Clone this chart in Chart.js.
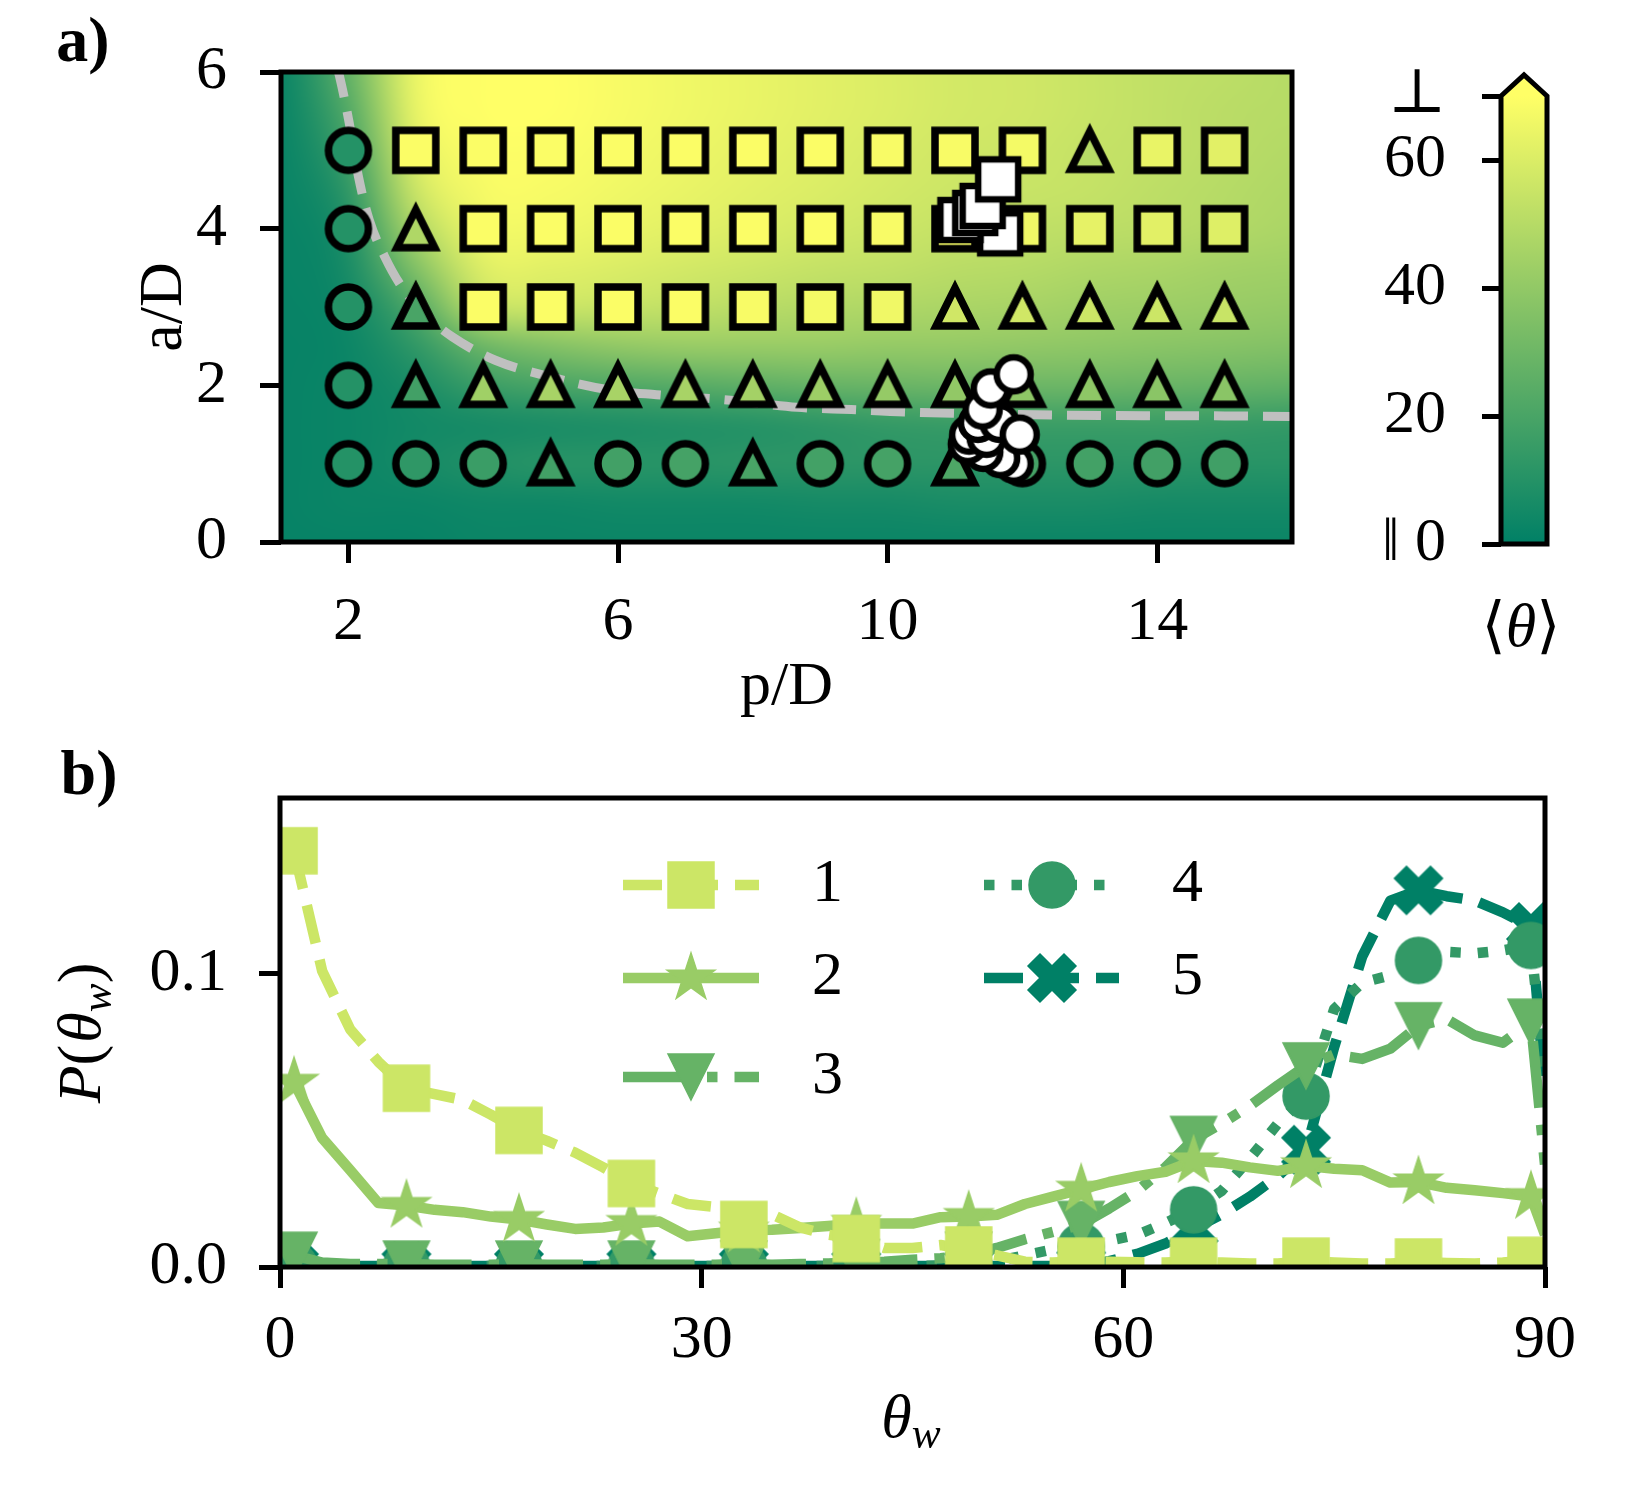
<!DOCTYPE html>
<html>
<head>
<meta charset="utf-8">
<script src="https://cdn.jsdelivr.net/npm/chart.js@4.4.1/dist/chart.umd.min.js"></script>
<style>
html,body{margin:0;padding:0;background:#fff;width:1627px;height:1507px;overflow:hidden;}
canvas{position:absolute;}
</style>
</head>
<body>
<canvas id="cA" width="1320" height="740" style="left:0;top:0;width:1320px;height:740px"></canvas>
<canvas id="cCB" width="307" height="740" style="left:1320px;top:0;width:307px;height:740px"></canvas>
<canvas id="cB" width="1627" height="767" style="left:0;top:740px;width:1627px;height:767px"></canvas>
<script>
// ================= DATA: panel a =================
const pOverD = [2,3,4,5,6,7,8,9,10,11,12,13,14,15];
const aOverD = [1,2,3,4,5];
const shapeRowA1 = ['o','o','o','^','o','o','^','o','o','^','o','o','o','o'];
const shapeRowA2 = ['o','^','^','^','^','^','^','^','^','^','^','^','^','^'];
const shapeRowA3 = ['o','^','s','s','s','s','s','s','s','^','^','^','^','^'];
const shapeRowA4 = ['o','^','s','s','s','s','s','s','s','s','s','s','s','s'];
const shapeRowA5 = ['o','s','s','s','s','s','s','s','s','s','s','^','s','s'];
const thetaRowA1 = [10,13,16,18,18,19,20,18.5,19,21.5,19,18.5,18,17.5];
const thetaRowA2 = [10,18,44,46,46,46,45,43,41,40,39,39,38,38];
const thetaRowA3 = [10,20,69,69,69,69,68,67,66,57,57,56,56,55];
const thetaRowA4 = [10,48,69,69,69,69,69,69,68,67,66,63,62,61];
const thetaRowA5 = [10,69,69,69,69,69,69,69,68,68,67,50,64,62];

// white markers (trajectories)
const whiteSqP = [11.67,11.08,11.30,11.41,11.64];
const whiteSqA = [3.94,4.11,4.20,4.29,4.63];
const whiteCircP = [11.87,11.67,11.42,11.19,11.21,11.47,11.34,11.66,11.41,11.96,11.53,11.87];
const whiteCircA = [1.00,1.07,1.15,1.25,1.37,1.33,1.52,1.52,1.69,1.37,1.96,2.14];

// dashed boundary curve
const curveP = [1.82,1.87,2.01,2.15,2.31,2.54,2.79,3.18,3.54,4.18,4.99,5.88,6.57,7.67,8.66,9.46,10.25,12.5,15.0,16.5];
const curveA = [6.10,5.94,5.36,4.66,4.11,3.64,3.26,2.87,2.62,2.32,2.11,1.94,1.88,1.81,1.72,1.69,1.66,1.62,1.61,1.60];

// background <theta> field (degrees), rows of constant a/D, columns p/D = bgP
const bgP = [1,2,3,4,5,6,7,8,9,10,11,12,13,14,15,16];
const bgA = [0,0.5,1,1.5,2,2.5,3,3.5,4,4.5,5,5.5,6];
const bgA00 = [2,2,2,3,3,3,3,3,3,3,3,3,3,3,3,3];
const bgA05 = [2,3,3,4,4,5,5,5,6,6,7,7,7,6,6,6];
const bgA10 = [2,3,6,9,11,11,11,12,12,12,12,12,12,12,11,11];
const bgA15 = [2,3,5,6,7,8,9,10,12,14,15,16,16,16,15,14];
const bgA20 = [2,3,7,16,20,22,24,26,28,29,30,30,30,29,28,27];
const bgA25 = [2,3,13,30,36,40,42,42,42,41,41,40,39,38,37,36];
const bgA30 = [2,4,22,54,56,55,53,51,49,48,47,46,44,43,42,41];
const bgA35 = [2,6,36,62,62,60,58,56,54,53,51,50,48,47,45,44];
const bgA40 = [2,8,48,66,66,64,62,60,58,56,54,53,52,51,49,47];
const bgA45 = [2,12,57,68,68,66,64,62,60,58,56,55,54,52,50,48];
const bgA50 = [2,17,62,69,69,67,65,63,61,59,57,56,54,53,51,49];
const bgA55 = [2,22,65,70,70,68,66,64,62,60,58,57,55,53,51,50];
const bgA60 = [2,27,66,70,70,68,66,64,62,60,58,57,55,53,52,50];

const xTicksA = [2,6,10,14];
const yTicksA = [0,2,4,6];

// colorbar
const cbMax = 70;
const cbTicks = [0,20,40,60,70];
const cbLabels = ['\u2016 0','20','40','60','\u22A5'];

// ================= DATA: panel b =================
const thetaW = [1,3,5,7,9,11,13,15,17,19,21,23,25,27,29,31,33,35,37,39,41,43,45,47,49,51,53,55,57,59,61,63,65,67,69,71,73,75,77,79,81,83,85,87,89,90];
const pS1 = [0.142,0.101,0.081,0.070,0.061,0.059,0.057,0.052,0.0466,0.043,0.039,0.034,0.0285,0.025,0.0215,0.0205,0.0145,0.018,0.0135,0.011,0.0097,0.0065,0.0065,0.0075,0.0058,0.004,0.0018,0.0015,0.002,0.0018,0.0016,0.0015,0.002,0.0015,0.0012,0.0012,0.002,0.0015,0.0012,0.0012,0.0017,0.0014,0.0012,0.0015,0.0023,0.0005];
const pS2 = [0.063,0.044,0.033,0.0218,0.021,0.0195,0.0187,0.0172,0.0162,0.0145,0.013,0.0135,0.0148,0.0155,0.0105,0.0115,0.0125,0.0127,0.0133,0.014,0.0148,0.0148,0.0148,0.017,0.0172,0.0178,0.0215,0.024,0.0265,0.029,0.031,0.0325,0.0362,0.0356,0.034,0.0328,0.0345,0.0335,0.033,0.0288,0.029,0.027,0.0262,0.0252,0.024,0.011];
const pS3 = [0.004,0.0015,0.001,0.001,0.001,0.0008,0.0008,0.0008,0.001,0.0008,0.0008,0.0008,0.001,0.0008,0.0008,0.0008,0.001,0.0008,0.001,0.0012,0.0015,0.0018,0.0025,0.003,0.004,0.0065,0.0095,0.012,0.0145,0.02,0.026,0.034,0.0435,0.049,0.055,0.062,0.0686,0.0725,0.071,0.0745,0.0823,0.0846,0.079,0.0765,0.0835,0.035];
const pS4 = [0.0005,0.0003,0.0003,0.0003,0.0003,0.0003,0.0003,0.0003,0.0003,0.0003,0.0003,0.0003,0.0003,0.0003,0.0003,0.0003,0.0003,0.0003,0.0003,0.0003,0.0003,0.0003,0.0003,0.0005,0.001,0.002,0.004,0.006,0.007,0.009,0.011,0.015,0.0195,0.026,0.037,0.049,0.0583,0.088,0.097,0.0995,0.1046,0.1075,0.107,0.108,0.1097,0.065];
const pS5 = [0.0003,0.0003,0.0003,0.0003,0.0003,0.0003,0.0003,0.0003,0.0003,0.0003,0.0003,0.0003,0.0003,0.0003,0.0003,0.0003,0.0003,0.0003,0.0003,0.0003,0.0003,0.0003,0.0003,0.0003,0.0003,0.0003,0.0003,0.0003,0.0008,0.002,0.0045,0.008,0.013,0.018,0.024,0.031,0.040,0.075,0.106,0.125,0.1285,0.1265,0.125,0.121,0.116,0.06];
const seriesLabels = ['1','2','3','4','5'];
const xTicksB = [0,30,60,90];
const yTicksB = [0,0.1];

// ================= helpers =================
const FONT = "'Liberation Serif', 'DejaVu Serif', serif";
const FS = 62;
Chart.defaults.font.family = FONT;
Chart.defaults.font.size = FS;
Chart.defaults.color = '#000';

function summer(t){ t = Math.max(0, Math.min(1, t)); return [Math.round(255*t), Math.round(255*(0.5+0.5*t)), 102]; }
function rgb(c){ return 'rgb(' + c[0] + ',' + c[1] + ',' + c[2] + ')'; }
function colorOf(v){ return rgb(summer(v / cbMax)); }

const markerCache = {};
function marker(shape, size, fill, stroke, lw){
  const key = [shape,size,fill,stroke,lw].join('|');
  if (markerCache[key]) return markerCache[key];
  let dim = Math.ceil(size + 4*lw + 20); if (dim % 2) dim++;
  const c = document.createElement('canvas'); c.width = dim; c.height = dim;
  const g = c.getContext('2d'); g.translate(dim/2, dim/2);
  const h = size/2;
  g.beginPath();
  if (shape === 's') { g.rect(-h,-h,size,size); }
  else if (shape === 'o') { g.arc(0,0,h,0,Math.PI*2); }
  else if (shape === '^') { g.moveTo(0,-h); g.lineTo(h,h); g.lineTo(-h,h); g.closePath(); }
  else if (shape === 'v') { g.moveTo(0,h); g.lineTo(h,-h); g.lineTo(-h,-h); g.closePath(); }
  else if (shape === '*') {
    const rin = h*0.381966;
    for (let k=0;k<10;k++){ const r = k%2===0 ? h : rin; const ang = -Math.PI/2 + k*Math.PI/5; const px = r*Math.cos(ang), py = r*Math.sin(ang); if(k===0) g.moveTo(px,py); else g.lineTo(px,py); }
    g.closePath();
  } else if (shape === 'X') {
    const v = [[-0.25,-0.5],[0,-0.25],[0.25,-0.5],[0.5,-0.25],[0.25,0],[0.5,0.25],[0.25,0.5],[0,0.25],[-0.25,0.5],[-0.5,0.25],[-0.25,0],[-0.5,-0.25]];
    v.forEach((p,i)=>{ if(i===0) g.moveTo(p[0]*size,p[1]*size); else g.lineTo(p[0]*size,p[1]*size); });
    g.closePath();
  }
  g.fillStyle = fill; g.fill();
  if (lw > 0) { g.lineWidth = lw; g.strokeStyle = stroke; g.lineJoin = (shape==='o') ? 'round' : 'miter'; g.miterLimit = 10; g.stroke(); }
  markerCache[key] = c;
  return c;
}
function gridMarker(shape, theta){
  const size = shape === '^' ? 38 : 40;
  return marker(shape, size, colorOf(theta), '#000', 7.5);
}

function drawRich(ctx, parts, cx, cy, rot, size){
  ctx.save();
  ctx.translate(cx, cy); ctx.rotate(rot || 0);
  ctx.fillStyle = '#000'; ctx.textAlign = 'left'; ctx.textBaseline = 'alphabetic';
  const items = parts.map(p => {
    const fs = p.sub ? size*0.7 : size;
    const font = (p.it ? 'italic ' : '') + (p.bold ? 'bold ' : '') + fs + 'px ' + FONT;
    ctx.font = font;
    return { t: p.t, font: font, w: ctx.measureText(p.t).width, dy: p.sub ? size*0.17 : 0, kern: p.kern || 0 };
  });
  const total = items.reduce((s,it)=>s+it.w+it.kern,0);
  let x = -total/2;
  const base = size*0.33;
  items.forEach(it => { ctx.font = it.font; ctx.fillText(it.t, x, base + it.dy); x += it.w + it.kern; });
  ctx.restore();
}

const framePlugin = { id:'frame', afterDatasetsDraw(chart){
  const {ctx, chartArea:ca} = chart;
  ctx.save(); ctx.strokeStyle = '#000'; ctx.lineWidth = 5; ctx.lineJoin = 'miter';
  ctx.strokeRect(ca.left, ca.top, ca.right-ca.left, ca.bottom-ca.top);
  ctx.restore();
}};
function noPadY(s, w){ s.width = w; s.paddingTop = 0; s.paddingBottom = 0; }
function noPadX(s, h){ s.height = h; s.paddingLeft = 0; s.paddingRight = 0; }

// ================= Panel a chart =================
const bgRows = [bgA00,bgA05,bgA10,bgA15,bgA20,bgA25,bgA30,bgA35,bgA40,bgA45,bgA50,bgA55,bgA60];
const heatmapPlugin = { id:'heat', beforeDatasetsDraw(chart){
  const {ctx, chartArea:ca, scales} = chart;
  const xs = scales.x, ys = scales.y;
  const nx = bgP.length, ny = bgA.length;
  const off = document.createElement('canvas'); off.width = nx+2; off.height = ny+2;
  const g = off.getContext('2d'); const img = g.createImageData(nx+2, ny+2);
  for (let j=0;j<ny+2;j++){
    for (let i=0;i<nx+2;i++){
      const ii = Math.min(nx-1, Math.max(0, i-1));
      const jj = Math.min(ny-1, Math.max(0, j-1));
      const val = bgRows[ny-1-jj][ii];
      const c = summer(val / cbMax);
      const k = (j*(nx+2)+i)*4;
      img.data[k]=c[0]; img.data[k+1]=c[1]; img.data[k+2]=c[2]; img.data[k+3]=255;
    }
  }
  g.putImageData(img,0,0);
  const dp = bgP[1]-bgP[0], da = bgA[1]-bgA[0];
  const x0 = xs.getPixelForValue(bgP[0]-1.5*dp), x1 = xs.getPixelForValue(bgP[nx-1]+1.5*dp);
  const y0 = ys.getPixelForValue(bgA[ny-1]+1.5*da), y1 = ys.getPixelForValue(bgA[0]-1.5*da);
  ctx.save();
  ctx.beginPath(); ctx.rect(ca.left, ca.top, ca.right-ca.left, ca.bottom-ca.top); ctx.clip();
  ctx.imageSmoothingEnabled = true; ctx.imageSmoothingQuality = 'high';
  ctx.drawImage(off, x0, y0, x1-x0, y1-y0);
  ctx.restore();
}};
const labelAPlugin = { id:'labA', afterDraw(chart){
  const ctx = chart.ctx;
  ctx.save(); ctx.fillStyle='#000'; ctx.font = 'bold 64px ' + FONT; ctx.textAlign='center'; ctx.textBaseline='middle';
  ctx.fillText('a)', 83, 44); ctx.restore();
}};

function gridDataset(a, shapes, theta){
  return {
    type:'scatter', order:1,
    data: pOverD.map(p => ({x:p, y:a})),
    pointStyle: c => (c.type === 'data') ? gridMarker(shapes[c.dataIndex], theta[c.dataIndex]) : 'circle',
    pointRadius: 22
  };
}
const dsA = [
  { type:'scatter', order:0, data: whiteCircP.map((p,i)=>({x:p, y:whiteCircA[i]})), pointStyle: marker('o',34,'#fff','#000',6.5), pointRadius:20 },
  { type:'scatter', order:0, data: whiteSqP.map((p,i)=>({x:p, y:whiteSqA[i]})), pointStyle: marker('s',40,'#fff','#000',6.5), pointRadius:22 },
  gridDataset(aOverD[4], shapeRowA5, thetaRowA5),
  gridDataset(aOverD[3], shapeRowA4, thetaRowA4),
  gridDataset(aOverD[2], shapeRowA3, thetaRowA3),
  gridDataset(aOverD[1], shapeRowA2, thetaRowA2),
  gridDataset(aOverD[0], shapeRowA1, thetaRowA1),
  { type:'line', order:2, data: curveP.map((p,i)=>({x:p, y:curveA[i]})), borderColor:'#c0c0c0', borderWidth:9, borderDash:[34,15], pointRadius:0, fill:false, cubicInterpolationMode:'monotone', clip:0 }
];

const tickGrid = { drawOnChartArea:false, drawTicks:true, tickLength:21, tickWidth:5, tickColor:'#000' };

new Chart(document.getElementById('cA'), {
  type:'scatter',
  data:{ datasets: dsA },
  options:{
    responsive:false, animation:false, events:[],
    layout:{ padding:{ left:0, right:28, top:72, bottom:0 } },
    plugins:{ legend:{display:false}, tooltip:{enabled:false} },
    scales:{
      x:{ type:'linear', min:1, max:16,
          afterBuildTicks: s => { s.ticks = xTicksA.map(v=>({value:v})); },
          afterFit: s => noPadX(s, 198),
          grid: tickGrid, border:{display:false},
          ticks:{ padding:23, color:'#000', font:{size:FS}, maxRotation:0, autoSkip:false },
          title:{ display:true, text:'p/D', color:'#000', font:{size:FS}, padding:{top:0, bottom:15} } },
      y:{ type:'linear', min:0, max:6,
          afterBuildTicks: s => { s.ticks = yTicksA.map(v=>({value:v})); },
          afterFit: s => noPadY(s, 281),
          grid: tickGrid, border:{display:false},
          ticks:{ padding:33, color:'#000', font:{size:FS}, autoSkip:false },
          title:{ display:true, text:'a/D', color:'#000', font:{size:FS}, padding:{top:128, bottom:0} } }
    }
  },
  plugins:[heatmapPlugin, framePlugin, labelAPlugin]
});

// ================= Colorbar =================
const cbPlugin = { id:'cb', afterDatasetsDraw(chart){
  const {ctx, chartArea:ca} = chart;
  const mid = (ca.left+ca.right)/2, tip = ca.top - 21;
  ctx.save();
  ctx.beginPath(); ctx.moveTo(ca.left, ca.top); ctx.lineTo(mid, tip); ctx.lineTo(ca.right, ca.top); ctx.closePath();
  ctx.fillStyle = rgb(summer(1)); ctx.fill();
  ctx.beginPath(); ctx.moveTo(ca.left, ca.bottom); ctx.lineTo(ca.left, ca.top); ctx.lineTo(mid, tip); ctx.lineTo(ca.right, ca.top); ctx.lineTo(ca.right, ca.bottom); ctx.closePath();
  ctx.strokeStyle='#000'; ctx.lineWidth=5; ctx.lineJoin='miter'; ctx.stroke();
  ctx.restore();
  drawRich(ctx, [{t:'\u27E8'},{t:'\u03B8', it:true},{t:'\u27E9'}], mid-3, 626, 0, FS);
}};
new Chart(document.getElementById('cCB'), {
  type:'bar',
  data:{ labels:[''], datasets:[{ data:[cbMax], borderWidth:0, barPercentage:1, categoryPercentage:1,
    backgroundColor: c => { const ca = c.chart.chartArea; if (!ca) return rgb(summer(0.5));
      const g = c.chart.ctx.createLinearGradient(0, ca.bottom, 0, ca.top);
      g.addColorStop(0, rgb(summer(0))); g.addColorStop(1, rgb(summer(1))); return g; } }] },
  options:{
    responsive:false, animation:false, events:[],
    layout:{ padding:{ left:0, right:80, top:96, bottom:196 } },
    plugins:{ legend:{display:false}, tooltip:{enabled:false} },
    scales:{
      x:{ display:false },
      y:{ min:0, max:cbMax,
          afterBuildTicks: s => { s.ticks = cbTicks.map(v=>({value:v})); },
          afterFit: s => noPadY(s, 181),
          grid:{ drawOnChartArea:false, drawTicks:true, tickLength:19, tickWidth:5, tickColor:'#000' }, border:{display:false},
          ticks:{ padding:36, color:'#000', font:{size:FS}, autoSkip:false, callback:(v,i)=>cbLabels[i] } }
    }
  },
  plugins:[cbPlugin]
});

// ================= Panel b chart =================
const LWB = 10.5;
const colB = [rgb(summer(0.8)), rgb(summer(0.6)), rgb(summer(0.4)), rgb(summer(0.2)), rgb(summer(0))];
const dashB = [[39,17],[],[67,17,10.5,17],[10.5,17],[39,17]];
const mkB = [
  marker('s',46,colB[0],colB[0],1.5),
  marker('*',50,colB[1],colB[1],1.5),
  marker('v',46,colB[2],colB[2],1.5),
  marker('o',46,colB[3],colB[3],1.5),
  marker('X',48,colB[4],colB[4],1.5)
];
const seriesB = [pS1,pS2,pS3,pS4,pS5];
const dsB = seriesB.map((s,k)=>({
  label: seriesLabels[k],
  data: thetaW.map((x,i)=>({x:x, y:s[i]})),
  borderColor: colB[k], backgroundColor: colB[k], borderWidth:LWB, borderDash: dashB[k],
  borderJoinStyle:'round', borderCapStyle:'butt', fill:false, tension:0, clip:0,
  pointStyle: mkB[k],
  pointRadius: c => (c.type==='data' && c.dataIndex % 4 === 0 && c.dataIndex < thetaW.length-1) ? 24 : 0
}));
const legendPos = [
  {x0:623, x1:759, tx:812, y:145},
  {x0:623, x1:759, tx:812, y:238},
  {x0:623, x1:759, tx:812, y:337},
  {x0:984, x1:1119, tx:1172, y:145},
  {x0:984, x1:1119, tx:1172, y:238}
];
const legendBPlugin = { id:'legB', afterDraw(chart){
  const ctx = chart.ctx;
  chart.data.datasets.forEach((ds,k)=>{
    const L = legendPos[k];
    ctx.save();
    ctx.strokeStyle = ds.borderColor; ctx.lineWidth = ds.borderWidth; ctx.setLineDash(ds.borderDash); ctx.lineCap='butt';
    ctx.beginPath(); ctx.moveTo(L.x0, L.y); ctx.lineTo(L.x1, L.y); ctx.stroke();
    ctx.setLineDash([]);
    const mk = ds.pointStyle; ctx.drawImage(mk, Math.round((L.x0+L.x1)/2 - mk.width/2), Math.round(L.y - mk.height/2));
    ctx.fillStyle='#000'; ctx.font = FS + 'px ' + FONT; ctx.textAlign='left'; ctx.textBaseline='middle';
    ctx.fillText(ds.label, L.tx, L.y);
    ctx.restore();
  });
  drawRich(ctx, [{t:'P', it:true},{t:'(', kern:2},{t:'\u03B8', it:true},{t:'w', it:true, sub:true},{t:')'}], 80, 293, -Math.PI/2, FS);
  drawRich(ctx, [{t:'\u03B8', it:true},{t:'w', it:true, sub:true}], 911, 677, 0, FS);
  ctx.save(); ctx.fillStyle='#000'; ctx.font = 'bold 64px ' + FONT; ctx.textAlign='center'; ctx.textBaseline='middle';
  ctx.fillText('b)', 89, 37); ctx.restore();
}};
new Chart(document.getElementById('cB'), {
  type:'line',
  data:{ datasets: dsB },
  options:{
    responsive:false, animation:false, events:[],
    layout:{ padding:{ left:0, right:82, top:58, bottom:0 } },
    plugins:{ legend:{display:false}, tooltip:{enabled:false} },
    scales:{
      x:{ type:'linear', min:0, max:90,
          afterBuildTicks: s => { s.ticks = xTicksB.map(v=>({value:v})); },
          afterFit: s => noPadX(s, 240),
          grid: tickGrid, border:{display:false},
          ticks:{ padding:16, color:'#000', font:{size:FS}, maxRotation:0, autoSkip:false } },
      y:{ type:'linear', min:0, max:0.16,
          afterBuildTicks: s => { s.ticks = yTicksB.map(v=>({value:v})); },
          afterFit: s => noPadY(s, 280),
          grid: tickGrid, border:{display:false},
          ticks:{ padding:32, color:'#000', font:{size:FS}, autoSkip:false, callback: v => Number(v).toFixed(1) } }
    }
  },
  plugins:[framePlugin, legendBPlugin]
});
</script>
</body>
</html>
